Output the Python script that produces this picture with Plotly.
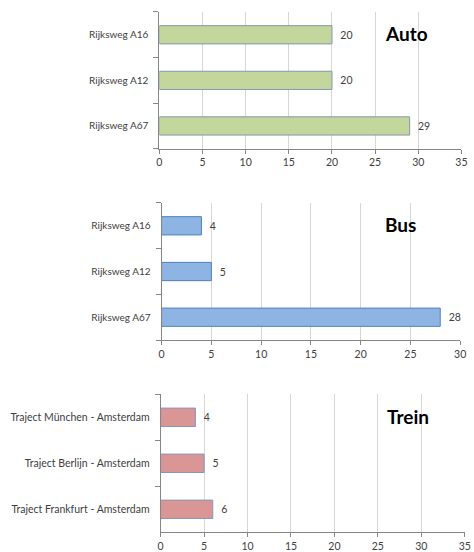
import plotly.graph_objects as go

auto_cats = ["Rijksweg A16", "Rijksweg A12", "Rijksweg A67"]
auto_vals = [20, 20, 29]
bus_cats = ["Rijksweg A16", "Rijksweg A12", "Rijksweg A67"]
bus_vals = [4, 5, 28]
trein_cats = ["Traject München - Amsterdam", "Traject Berlijn - Amsterdam", "Traject Frankfurt - Amsterdam"]
trein_vals = [4, 5, 6]
x_ranges = [35, 30, 35]
titles = ["Auto", "Bus", "Trein"]

W, H = 474, 552
FONT = "Lato, Open Sans, sans-serif"
TXT = "#404040"
NB = "\u00a0\u00a0"

panels = [
    dict(cats=auto_cats, vals=auto_vals, fill="#c3d69b", line="#8496b0",
         xd=(159.4, 467.3), yd=(12, 149), title_xy=(411, 34), fs=10),
    dict(cats=bus_cats, vals=bus_vals, fill="#8eb4e3", line="#4f81bd",
         xd=(161.7, 466.0), yd=(203.3, 340.7), title_xy=(405, 225), fs=10),
    dict(cats=trein_cats, vals=trein_vals, fill="#d99694", line="#8496c0",
         xd=(160.7, 470.7), yd=(395, 533.3), title_xy=(413, 417), fs=10.5),
]

fig = go.Figure()
layout = dict(width=W, height=H, margin=dict(l=0, r=0, t=0, b=0),
              paper_bgcolor="white", plot_bgcolor="white", showlegend=False,
              font=dict(family=FONT, color=TXT, size=10), annotations=[])

for i, p in enumerate(panels):
    n = "" if i == 0 else str(i + 1)
    fig.add_trace(go.Bar(
        y=p["cats"], x=p["vals"], orientation="h",
        xaxis="x" + n, yaxis="y" + n,
        marker=dict(color=p["fill"], line=dict(color=p["line"], width=1)),
        width=0.4,
        text=[NB + str(v) for v in p["vals"]], textposition="outside",
        textfont=dict(size=10.5, color=TXT, family=FONT),
        cliponaxis=False,
    ))
    layout["xaxis" + n] = dict(
        domain=[p["xd"][0] / W, p["xd"][1] / W], anchor="y" + n,
        range=[0, x_ranges[i]], dtick=5, tick0=0,
        showgrid=True, gridcolor="#d6d6d6", gridwidth=1,
        showline=True, linecolor="#868686", linewidth=1,
        ticks="outside", ticklen=4, tickcolor="#868686",
        tickfont=dict(size=10.5, color=TXT, family=FONT), zeroline=False,
        fixedrange=True,
    )
    layout["yaxis" + n] = dict(
        domain=[1 - p["yd"][1] / H, 1 - p["yd"][0] / H], anchor="x" + n,
        type="category", categoryorder="array", categoryarray=list(reversed(p["cats"])),
        showline=True, linecolor="#868686", linewidth=1,
        ticks="outside", ticklen=5, tickcolor="#868686", tickson="boundaries",
        tickfont=dict(size=p["fs"], color=TXT, family=FONT), ticklabelstandoff=8,
        showgrid=False, fixedrange=True,
    )
    layout["annotations"].append(dict(
        text="<b>" + titles[i] + "</b>", x=p["title_xy"][0] / W, y=1 - p["title_xy"][1] / H,
        xref="paper", yref="paper", showarrow=False, xanchor="center", yanchor="middle",
        font=dict(size=19, color="black", family=FONT),
    ))

fig.update_layout(**layout)
fig.write_html("out.html", config={"displayModeBar": False},
               post_script="document.body.style.margin='0';document.body.style.overflow='hidden';")
